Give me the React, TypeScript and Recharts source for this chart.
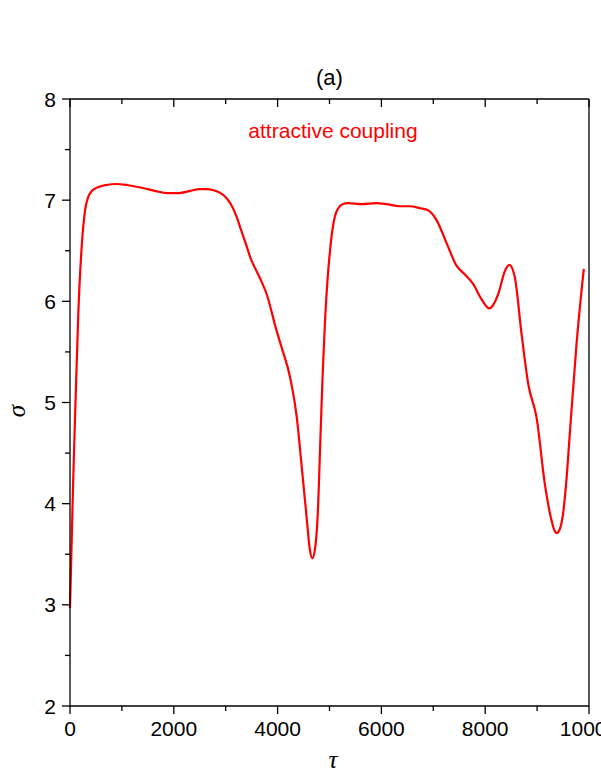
import { Customized, Line, LineChart, XAxis, YAxis } from "recharts";

// values (tau, sigma)
const tau = [
  0, 60, 100, 160, 225, 290, 350, 420, 550, 700, 900, 1100, 1400, 1650, 1870, 2100, 2300, 2500, 2650,
  2750, 2900, 3000, 3100, 3200, 3300, 3400, 3470, 3650, 3790, 3980, 4080, 4240, 4370, 4460, 4560, 4620,
  4670, 4720, 4770, 4830, 4870, 4913, 4960, 5010, 5060, 5110, 5170, 5250, 5360, 5620, 5900, 6100, 6350,
  6550, 6750, 6900, 7065, 7260, 7450, 7600, 7770, 7930, 8080, 8250, 8380, 8465, 8570, 8700, 8830, 8990,
  9150, 9280, 9330, 9377, 9430, 9500, 9560, 9630, 9760, 9900,
];
const sigma = [
  2.97, 4.2, 4.9, 5.88, 6.54, 6.9, 7.03, 7.09, 7.13, 7.15, 7.16, 7.15, 7.12, 7.09, 7.07, 7.07, 7.09, 7.11,
  7.11, 7.1, 7.07, 7.03, 6.96, 6.85, 6.7, 6.55, 6.44, 6.24, 6.07, 5.71, 5.54, 5.25, 4.85, 4.39, 3.86, 3.55,
  3.46, 3.55, 3.86, 4.72, 5.3, 5.8, 6.2, 6.5, 6.72, 6.85, 6.92, 6.96, 6.97, 6.96, 6.97, 6.96, 6.94, 6.94,
  6.92, 6.9, 6.8, 6.57, 6.35, 6.27, 6.17, 6.02, 5.93, 6.07, 6.3, 6.36, 6.24, 5.68, 5.18, 4.85, 4.19, 3.83,
  3.74, 3.71, 3.74, 3.9, 4.2, 4.69, 5.58, 6.32,
];

const xTicks = [0, 1000, 2000, 3000, 4000, 5000, 6000, 7000, 8000, 9000, 10000];
const yTicks = [2, 2.5, 3, 3.5, 4, 4.5, 5, 5.5, 6, 6.5, 7, 7.5, 8];

const data = tau.map((t, i) => ({ tau: t, sigma: sigma[i] }));

const SANS = "'Liberation Sans', Arial, sans-serif";
const SERIF = "'Liberation Serif', 'Times New Roman', serif";
const INK = "#000";

const BottomTick = ({ x, y, payload }: any) => {
  const major = payload.value % 2000 === 0;
  return (
    <g>
      <line x1={x} y1={y} x2={x} y2={y + (major ? 8 : 5)} stroke={INK} strokeWidth={1.3} />
      {major && (
        <text x={x} y={y + 30} textAnchor="middle" fontSize={21} fontFamily={SANS} fill={INK}>
          {payload.value}
        </text>
      )}
    </g>
  );
};

const TopTick = ({ x, y, payload }: any) => {
  const major = payload.value % 2000 === 0;
  return <line x1={x} y1={y} x2={x} y2={y + (major ? 8 : 5)} stroke={INK} strokeWidth={1.3} />;
};

const LeftTick = ({ x, y, payload }: any) => {
  const major = payload.value % 1 === 0;
  return (
    <g>
      <line x1={x} y1={y} x2={x - (major ? 8 : 5)} y2={y} stroke={INK} strokeWidth={1.3} />
      {major && (
        <text x={x - 14} y={y + 7.5} textAnchor="end" fontSize={21} fontFamily={SANS} fill={INK}>
          {payload.value}
        </text>
      )}
    </g>
  );
};

const RightTick = ({ x, y, payload }: any) => {
  const major = payload.value % 1 === 0;
  return <line x1={x} y1={y} x2={x - (major ? 8 : 5)} y2={y} stroke={INK} strokeWidth={1.3} />;
};

const Texts = () => (
  <g>
    <text x={329.5} y={85} textAnchor="middle" fontSize={22} fontFamily={SANS} fill={INK}>
      (a)
    </text>
    <text x={333} y={138} textAnchor="middle" fontSize={21} fontFamily={SANS} fill="#ff0000">
      attractive coupling
    </text>
    <text x={333} y={768} textAnchor="middle" fontSize={25} fontStyle="italic" fontFamily={SERIF} fill={INK}>
      τ
    </text>
    <text
      transform="translate(25 411) rotate(-90)"
      textAnchor="middle"
      fontSize={25}
      fontStyle="italic"
      fontFamily={SERIF}
      fill={INK}
    >
      σ
    </text>
  </g>
);

export default function App() {
  return (
    <div style={{ position: "absolute", left: 0, top: 0, width: 601, height: 778, background: "#fff" }}>
      <LineChart width={601} height={778} data={data} margin={{ top: 98, right: 11, bottom: 32, left: 30 }}>
        <XAxis
          dataKey="tau"
          type="number"
          domain={[0, 10000]}
          ticks={xTicks}
          interval={0}
          height={40}
          tickSize={0}
          tickMargin={0}
          tick={BottomTick}
          axisLine={{ stroke: INK, strokeWidth: 1.3 }}
        />
        <XAxis
          xAxisId="top"
          orientation="top"
          dataKey="tau"
          type="number"
          domain={[0, 10000]}
          ticks={xTicks}
          interval={0}
          height={1}
          tickSize={0}
          tickMargin={0}
          tick={TopTick}
          axisLine={{ stroke: INK, strokeWidth: 1.3 }}
        />
        <YAxis
          type="number"
          domain={[2, 8]}
          ticks={yTicks}
          interval={0}
          width={40}
          tickSize={0}
          tickMargin={0}
          tick={LeftTick}
          axisLine={{ stroke: INK, strokeWidth: 1.3 }}
        />
        <YAxis
          yAxisId="right"
          orientation="right"
          type="number"
          domain={[2, 8]}
          ticks={yTicks}
          interval={0}
          width={1}
          tickSize={0}
          tickMargin={0}
          tick={RightTick}
          axisLine={{ stroke: INK, strokeWidth: 1.3 }}
        />
        <Line
          type="monotone"
          dataKey="sigma"
          stroke="#ff0000"
          strokeWidth={2.2}
          dot={false}
          isAnimationActive={false}
        />
        <Customized component={Texts} />
      </LineChart>
    </div>
  );
}
